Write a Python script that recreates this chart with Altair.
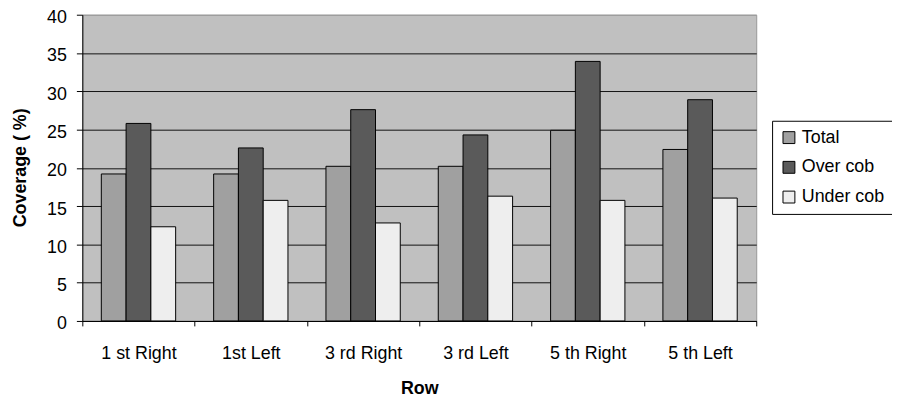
import altair as alt
import pandas as pd

rows = ["1 st Right", "1st Left", "3 rd Right", "3 rd Left", "5 th Right", "5 th Left"]
series = ["Total", "Over cob", "Under cob"]
total = [19.2, 19.2, 20.2, 20.2, 24.9, 22.4]
over_cob = [25.8, 22.6, 27.6, 24.3, 33.9, 28.9]
under_cob = [12.3, 15.75, 12.8, 16.3, 15.75, 16.05]
colors = ["#a0a0a0", "#5a5a5a", "#eeeeee"]
y_ticks = [0, 5, 10, 15, 20, 25, 30, 35, 40]

records = []
for i, r in enumerate(rows):
    for s, vals in zip(series, [total, over_cob, under_cob]):
        records.append({"row": r, "series": s, "value": vals[i]})
df = pd.DataFrame(records)

FONT = "Liberation Sans"

chart = alt.Chart(df).mark_bar(stroke="black", strokeWidth=1).encode(
    x=alt.X(
        "row:N",
        sort=rows,
        title="Row",
        scale=alt.Scale(paddingInner=0, paddingOuter=0),
        axis=alt.Axis(
            labelAngle=0,
            tickBand="extent",
            grid=False,
            tickSize=5,
            tickColor="black",
            domainColor="black",
            labelFont=FONT,
            labelFontSize=18,
            labelColor="black",
            labelBaseline="alphabetic",
            labelPadding=33,
            titleFont=FONT,
            titleFontSize=18,
            titleFontWeight="bold",
            titleColor="black",
            titleBaseline="alphabetic",
            titleY=73,
        ),
    ),
    xOffset=alt.XOffset(
        "series:N",
        sort=series,
        scale=alt.Scale(paddingInner=0, paddingOuter=0.767),
    ),
    y=alt.Y(
        "value:Q",
        title="Coverage ( %)",
        scale=alt.Scale(domain=[0, 40], nice=False),
        axis=alt.Axis(
            values=y_ticks,
            grid=True,
            gridColor=alt.condition("datum.value >= 40", alt.value("#999999"), alt.value("#111111")),
            gridWidth=1,
            tickSize=6,
            tickColor="black",
            domainColor="black",
            labelFont=FONT,
            labelFontSize=18,
            labelColor="black",
            labelPadding=10,
            labelBaseline="alphabetic",
            labelOffset=8,
            titleFont=FONT,
            titleFontSize=18,
            titleFontWeight="bold",
            titleColor="black",
            titleAngle=-90,
            titleX=-62,
            titleY=154,
            titleAlign="center",
            titleBaseline="middle",
        ),
    ),
    color=alt.Color(
        "series:N",
        sort=series,
        scale=alt.Scale(domain=series, range=colors),
        legend=alt.Legend(
            title=None,
            orient="none",
            legendX=696,
            legendY=107,
            symbolType="square",
            symbolSize=144,
            symbolStrokeColor="black",
            symbolStrokeWidth=1,
            symbolOpacity=1,
            labelFont=FONT,
            labelFontSize=18,
            labelColor="black",
            labelOffset=4,
            rowPadding=12,
            padding=8,
            strokeColor="black",
            fillColor="white",
        ),
    ),
).properties(
    width=680,
    height=309,
    autosize=alt.AutoSizeParams(type="none"),
    padding={"left": 75, "top": 5, "right": 137, "bottom": 79},
).configure_view(
    fill="#c0c0c0",
    stroke="#999999",
    strokeWidth=1,
)

chart.save("out.html", embed_options={"renderer": "svg", "actions": False})
